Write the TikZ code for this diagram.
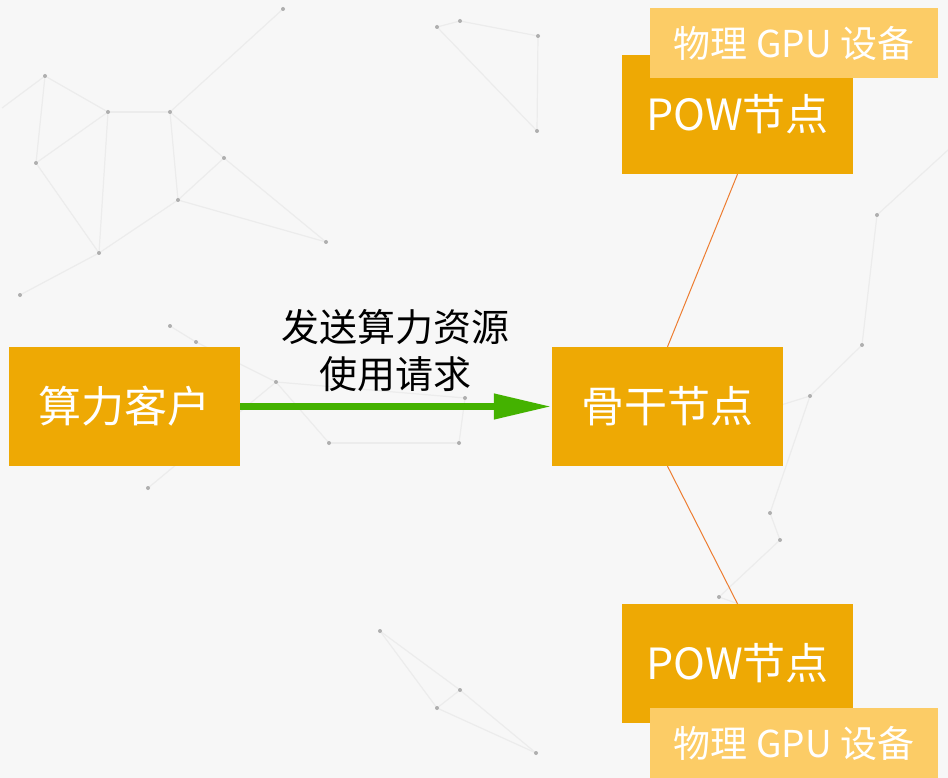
\documentclass[tikz,border=0pt]{standalone}
\usepackage{fontspec}
\setmainfont{Noto Sans CJK SC}
\usetikzlibrary{arrows.meta}
\definecolor{boxor}{RGB}{238,169,4}
\definecolor{gpuor}{RGB}{252,204,102}
\definecolor{arrgreen}{RGB}{68,178,0}
\definecolor{linkor}{RGB}{237,125,49}
\definecolor{bgcol}{RGB}{247,247,247}
\definecolor{netline}{RGB}{236,236,236}
\definecolor{netdot}{RGB}{175,175,175}
\tikzset{
  mainbox/.style={fill=boxor, text=white, minimum width=231pt, minimum height=119pt, inner sep=0pt, font=\fontsize{43}{50}\selectfont},
  gpubox/.style={fill=gpuor, text=white, minimum width=288pt, minimum height=70pt, inner sep=0pt, font=\fontsize{37}{42}\selectfont},
  link/.style={draw=linkor, line width=1pt},
  flow/.style={draw=arrgreen, line width=7.5pt, -{Triangle[length=58pt,width=24pt]}},
  netl/.style={draw=netline, line width=1.2pt},
  netd/.style={fill=netdot, draw=none},
}
\begin{document}
\begin{tikzpicture}[x=1pt,y=-1pt]
\fill[bgcol] (0,0) rectangle (948,778);
\useasboundingbox (0,0) rectangle (948,778);
% faint background network
\foreach \a/\b in {45/76, 108/112, 170/112, 224/158, 36/163, 178/200, 99/253, 20/295, 326/242, 437/27, 460/21, 538/36, 537/131, 170/326, 196/342, 276/382, 329/443, 459/443, 465/398, 148/488, 877/215, 810/396, 862/345, 770/513, 780/540, 719/597, 380/631, 460/690, 437/708, 536/753, 765/410, 2/108, 283/9, 840/640, 948/150}
  \coordinate (n\a-\b) at (\a,\b);
\foreach \p/\q in {45-76/108-112, 108-112/170-112, 45-76/36-163, 36-163/108-112, 108-112/99-253, 170-112/224-158, 224-158/178-200, 170-112/178-200, 36-163/99-253, 99-253/178-200, 99-253/20-295, 178-200/326-242, 224-158/326-242, 437-27/460-21, 460-21/538-36, 538-36/537-131, 437-27/537-131, 170-326/196-342, 196-342/276-382, 276-382/329-443, 329-443/459-443, 459-443/465-398, 465-398/276-382, 148-488/276-382, 877-215/862-345, 862-345/810-396, 810-396/765-410, 810-396/770-513, 770-513/780-540, 780-540/719-597, 380-631/460-690, 460-690/437-708, 437-708/536-753, 380-631/437-708, 460-690/536-753, 2-108/45-76, 283-9/170-112, 877-215/948-150, 719-597/840-640}
  \draw[netl] (n\p) -- (n\q);
\foreach \a/\b in {45/76, 108/112, 170/112, 224/158, 36/163, 178/200, 99/253, 20/295, 326/242, 437/27, 460/21, 538/36, 537/131, 170/326, 196/342, 276/382, 329/443, 459/443, 465/398, 148/488, 877/215, 810/396, 862/345, 770/513, 780/540, 719/597, 380/631, 460/690, 437/708, 536/753, 765/410, 283/9, 840/640}
  \fill[netd] (\a,\b) circle (2pt);
% main nodes
\node[mainbox] (client) at (124.5,406.5) {算力客户};
\node[mainbox] (core) at (667.5,406.5) {骨干节点};
\node[mainbox] (powtop) at (737.5,114.5) {POW节点};
\node[mainbox] (powbot) at (737.5,663.5) {POW节点};
\node[gpubox] (gputop) at (794,43.5) {物理 GPU 设备};
\node[gpubox] (gpubot) at (794,743) {物理 GPU 设备};
% connectors
\draw[link] (core.north) -- (powtop.south);
\draw[link] (core.south) -- (powbot.north);
\draw[flow] (client.east) -- (core.west);
\node[align=center, font=\fontsize{38}{47}\selectfont, text=black] (lbl) at (395,351) {发送算力资源\\使用请求};
\end{tikzpicture}
\end{document}
